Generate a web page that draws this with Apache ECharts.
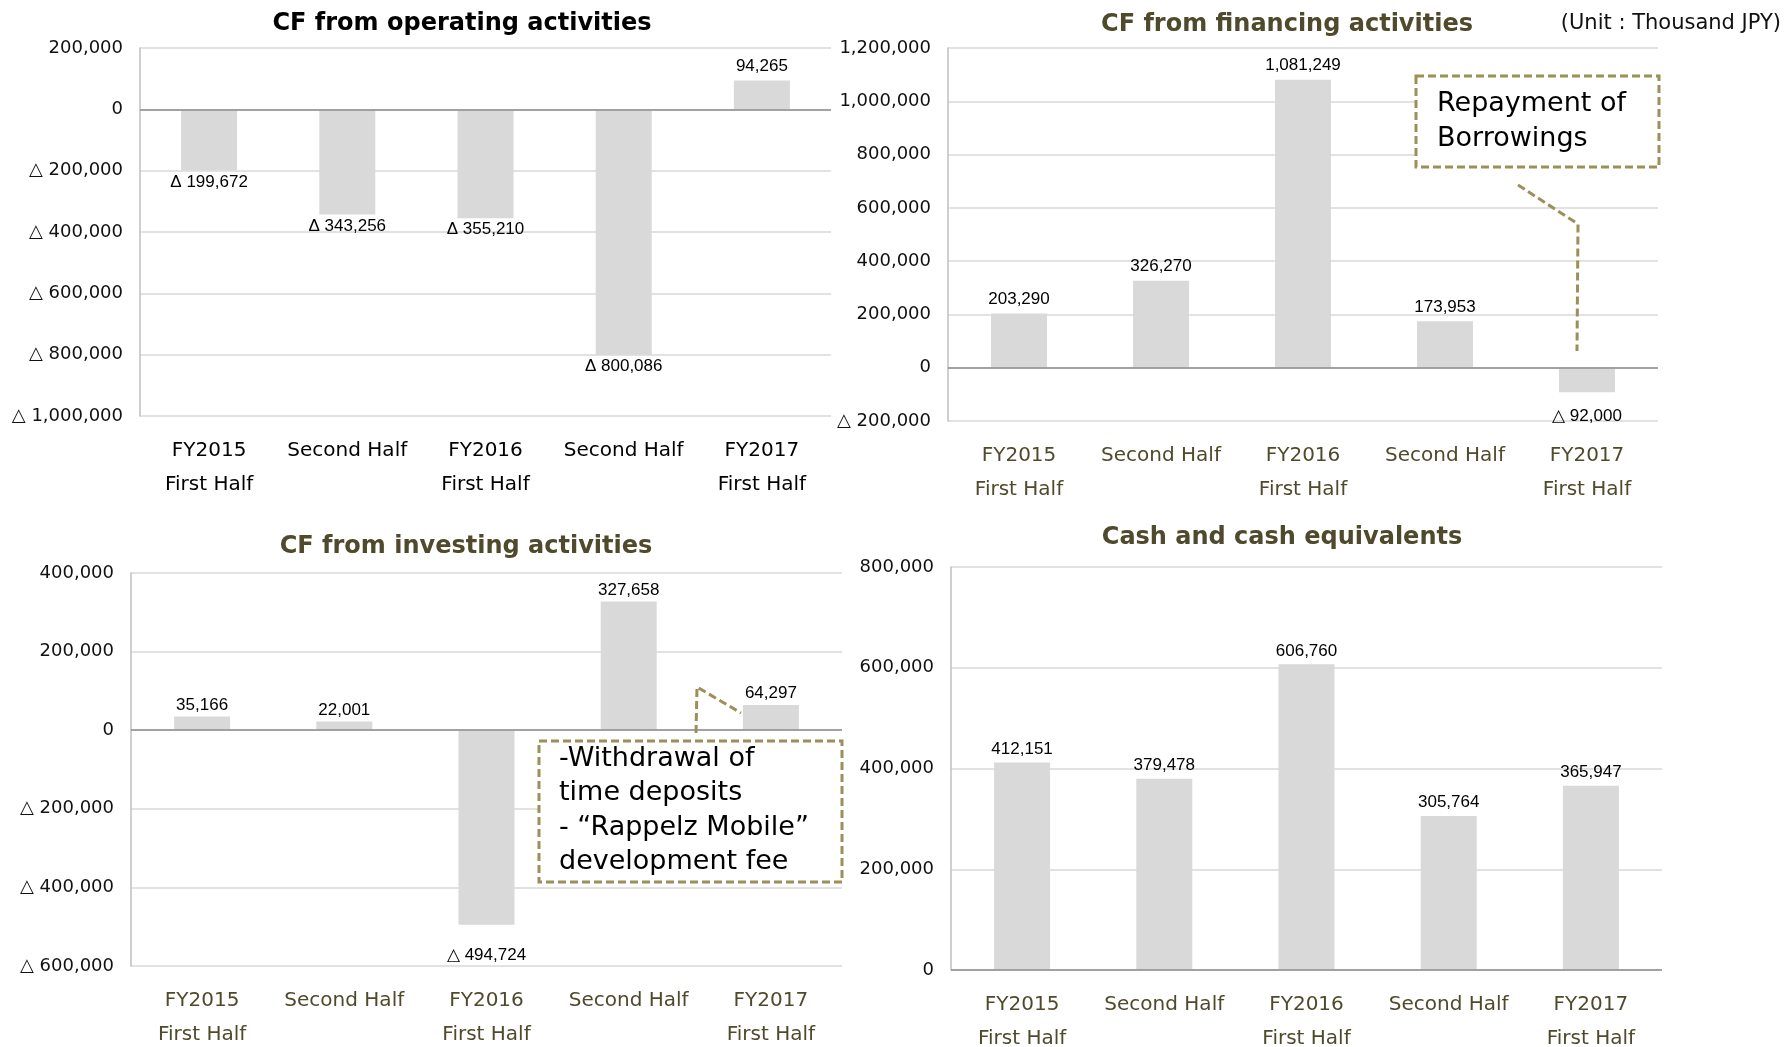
<!DOCTYPE html>
<html><head><meta charset="utf-8">
<script src="https://cdn.jsdelivr.net/npm/echarts/dist/echarts.min.js"></script>
<style>html,body{margin:0;padding:0;background:#fff}#c{width:1790px;height:1047px}</style>
</head><body><div id="c"></div>
<script>
// ---- data ----
const categories = ['FY2015\nFirst Half', 'Second Half', 'FY2016\nFirst Half', 'Second Half', 'FY2017\nFirst Half'];
const operatingCF = [-199672, -343256, -355210, -800086, 94265];
const financingCF = [203290, 326270, 1081249, 173953, -92000];
const investingCF = [35166, 22001, -494724, 327658, 64297];
const cashEquivalents = [412151, 379478, 606760, 305764, 365947];
const operatingTicks = [-1000000, -800000, -600000, -400000, -200000, 0, 200000];
const financingTicks = [-200000, 0, 200000, 400000, 600000, 800000, 1000000, 1200000];
const investingTicks = [-600000, -400000, -200000, 0, 200000, 400000];
const cashTicks = [0, 200000, 400000, 600000, 800000];
const chartTitles = ['CF from operating activities', 'CF from financing activities', 'CF from investing activities', 'Cash and cash equivalents'];
const unitText = '(Unit : Thousand JPY)';
const noteFinancing = ['Repayment of', 'Borrowings'];
const noteInvesting = ['-Withdrawal of', 'time deposits', '- \u201CRappelz Mobile\u201D', 'development fee'];

// ---- style / layout ----
const OLIVE = '#4f4a2c';
const DASH = '#9a9058';
const FONT = '"DejaVu Sans", Verdana, sans-serif';
const panels = [
  {data: operatingCF, ticks: operatingTicks, grid: {left: 140, top: 48, width: 691, height: 368}, catColor: '#000', title: {x: 462, y: 24, color: '#000'}, neg: 'Δ ', negDist: 3, posDist: 6},
  {data: financingCF, ticks: financingTicks, grid: {left: 948, top: 48, width: 710, height: 373}, catColor: OLIVE, title: {x: 1287, y: 25, color: OLIVE}, neg: '△ ', negDist: 16, posDist: 6},
  {data: investingCF, ticks: investingTicks, grid: {left: 131, top: 573, width: 711, height: 393}, catColor: OLIVE, title: {x: 466, y: 547, color: OLIVE}, neg: '△ ', negDist: 22, posDist: 3},
  {data: cashEquivalents, ticks: cashTicks, grid: {left: 951, top: 567, width: 711, height: 403}, catColor: OLIVE, title: {x: 1282, y: 538, color: OLIVE}, neg: '△ ', negDist: 5, posDist: 5}
];
const fmt = v => Math.abs(v).toLocaleString('en-US');

const option = {
  animation: false,
  backgroundColor: '#fff',
  grid: panels.map(p => Object.assign({containLabel: false, outerBoundsMode: 'none'}, p.grid)),
  xAxis: panels.map((p, i) => ({
    type: 'category', gridIndex: i, data: categories,
    axisLine: {show: false, onZero: false}, axisTick: {show: false},
    axisLabel: {interval: 0, fontSize: 20, lineHeight: 34, margin: 18, color: p.catColor, fontFamily: FONT}
  })),
  yAxis: panels.map((p, i) => ({
    type: 'value', gridIndex: i,
    min: p.ticks[0], max: p.ticks[p.ticks.length - 1], interval: p.ticks[1] - p.ticks[0],
    axisLine: {show: true, lineStyle: {color: '#bfbfbf', width: 1.5}},
    axisTick: {show: false},
    splitLine: {lineStyle: {color: '#d9d9d9', width: 1.5}},
    axisLabel: {fontSize: 18, margin: 17, color: '#111', fontFamily: FONT,
      formatter: v => (v < 0 ? '△ ' : '') + fmt(v)}
  })),
  series: panels.map((p, i) => ({
    type: 'bar', xAxisIndex: i, yAxisIndex: i, barWidth: 56,
    itemStyle: {color: '#d9d9d9'},
    data: p.data.map(v => ({
      value: v,
      label: {show: true, position: v < 0 ? 'bottom' : 'top', distance: v < 0 ? p.negDist : p.posDist,
        fontFamily: '"Liberation Sans", Arial, sans-serif', fontSize: 17, color: '#000',
        formatter: () => (v < 0 ? p.neg : '') + fmt(v)}
    })),
    markLine: {silent: true, symbol: 'none', label: {show: false}, animation: false,
      lineStyle: {color: '#8c8c8c', width: 1.5, type: 'solid'}, data: [{yAxis: 0}]}
  })),
  graphic: [
    ...panels.map((p, i) => ({type: 'text', x: p.title.x, y: p.title.y,
      style: {text: chartTitles[i], font: 'bold 24px ' + FONT, fill: p.title.color, align: 'center', verticalAlign: 'middle'}})),
    {type: 'text', x: 1781, y: 24, style: {text: unitText, font: '21px ' + FONT, fill: '#111', align: 'right', verticalAlign: 'middle'}},
    {type: 'rect', shape: {x: 1416, y: 76, width: 243, height: 91}, z: 10,
      style: {fill: '#fff', stroke: DASH, lineWidth: 3, lineDash: [8, 4]}},
    {type: 'text', x: 1437, y: 86, z: 11, style: {text: noteFinancing.join('\n'), font: '27px ' + FONT, lineHeight: 35, fill: '#000', verticalAlign: 'top'}},
    {type: 'polyline', z: 10, shape: {points: [[1518, 185], [1578, 224], [1577, 351]]},
      style: {fill: null, stroke: DASH, lineWidth: 3, lineDash: [8, 4]}},
    {type: 'rect', shape: {x: 539, y: 741, width: 303, height: 141}, z: 10,
      style: {fill: '#fff', stroke: DASH, lineWidth: 3, lineDash: [8, 4]}},
    {type: 'text', x: 559, y: 742, z: 11, style: {text: noteInvesting.join('\n'), font: '27px ' + FONT, lineHeight: 34.3, fill: '#000', verticalAlign: 'top'}},
    {type: 'polyline', z: 10, shape: {points: [[696, 733], [697, 687], [741, 713]]},
      style: {fill: null, stroke: DASH, lineWidth: 3, lineDash: [8, 4]}}
  ]
};
const chart = echarts.init(document.getElementById('c'), null, {renderer: 'canvas'});
chart.setOption(option);
</script>
</body></html>
